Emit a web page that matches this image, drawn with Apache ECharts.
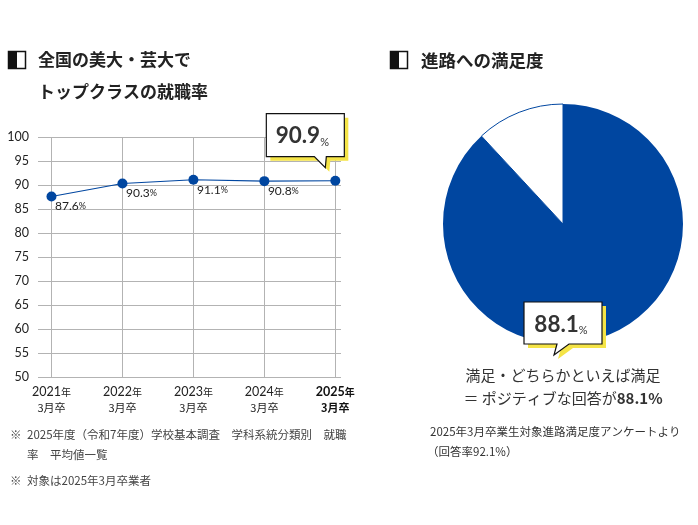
<!DOCTYPE html>
<html>
<head>
<meta charset="utf-8">
<script src="https://cdn.jsdelivr.net/npm/echarts@6.0.0/dist/echarts.min.js"></script>
<style>
  html, body { margin: 0; padding: 0; background: #fff; }
  #chart { width: 698px; height: 525px; }
</style>
</head>
<body>
<div id="chart"></div>
<script>
  'use strict';
  // data
  var years = ['2021', '2022', '2023', '2024', '2025'];
  var rates = [87.6, 90.3, 91.1, 90.8, 90.9];
  var yTicks = [50, 55, 60, 65, 70, 75, 80, 85, 90, 95, 100];
  var satisfied = 88.1;
  var other = 11.9;

  var BLUE = '#0046a0';
  var JP = '"Noto Sans CJK JP", "Noto Sans", sans-serif';
  var NUM = 'Lato, "Noto Sans", sans-serif';
  var last = years.length - 1;

  var lineData = rates.map(function (v, i) {
    if (i === last) return { value: [i, v], label: { show: false } };
    return [i, v];
  });

  var option = {
    animation: false,
    grid: {
      left: 38,
      right: 357,
      top: 137,
      bottom: 148,
      outerBoundsMode: 'none'
    },
    xAxis: {
      type: 'value',
      min: -0.19,
      max: 4.08,
      axisLine: { show: false },
      axisTick: { show: false },
      splitLine: { show: false },
      axisLabel: {
        customValues: years.map(function (y, i) { return i; }),
        margin: 7,
        lineHeight: 16,
        formatter: function (val) {
          var i = Math.round(val);
          if (i === last) return '{yb|' + years[i] + '}{nb|年}\n{mb|3月卒}';
          return '{y|' + years[i] + '}{n|年}\n{m|3月卒}';
        },
        rich: {
          y: { fontFamily: NUM, fontSize: 12.5, color: '#222', lineHeight: 16 },
          n: { fontFamily: JP, fontSize: 10, color: '#222', lineHeight: 16 },
          m: { fontFamily: JP, fontSize: 11, color: '#222', lineHeight: 16 },
          yb: { fontFamily: NUM, fontSize: 12.5, fontWeight: 'bold', color: '#111', lineHeight: 16 },
          nb: { fontFamily: JP, fontSize: 10, fontWeight: 'bold', color: '#111', lineHeight: 16 },
          mb: { fontFamily: JP, fontSize: 11, fontWeight: 'bold', color: '#111', lineHeight: 16 }
        }
      }
    },
    yAxis: {
      type: 'value',
      min: yTicks[0],
      max: yTicks[yTicks.length - 1],
      interval: 5,
      axisLine: { show: false },
      axisTick: { show: false },
      axisLabel: { fontFamily: NUM, fontSize: 12.5, color: '#222', margin: 9 },
      splitLine: { lineStyle: { color: '#b3b3b3', width: 1 } }
    },
    series: [
      {
        type: 'line',
        data: lineData,
        symbol: 'circle',
        symbolSize: 10,
        itemStyle: { color: BLUE },
        lineStyle: { color: BLUE, width: 1.1 },
        z: 5,
        label: {
          show: true,
          position: 'bottom',
          distance: 0,
          offset: [19, -1],
          formatter: function (p) {
            return '{v|' + p.value[1].toFixed(1) + '}{p|%}';
          },
          rich: {
            v: { fontFamily: NUM, fontSize: 12, color: '#222' },
            p: { fontFamily: NUM, fontSize: 9, color: '#222' }
          }
        },
        markLine: {
          silent: true,
          symbol: ['none', 'none'],
          label: { show: false },
          lineStyle: { color: '#b3b3b3', type: 'solid', width: 1 },
          data: years.map(function (y, i) { return { xAxis: i }; }),
          z: 1
        }
      },
      {
        type: 'pie',
        center: [563, 224],
        radius: 120,
        startAngle: 90,
        clockwise: true,
        silent: true,
        label: { show: false },
        labelLine: { show: false },
        data: [
          { value: satisfied, itemStyle: { color: BLUE } },
          { value: other, itemStyle: { color: '#ffffff', borderColor: BLUE, borderWidth: 1 } }
        ]
      }
    ]
  };

  var chart = echarts.init(document.getElementById('chart'));
  chart.setOption(option);

  // callout bubble with a yellow offset shadow
  function bubble(box, tail, shadow) {
    var pts = [
      [box.x, box.y], [box.x + box.w, box.y], [box.x + box.w, box.y + box.h]
    ].concat(tail).concat([[box.x, box.y + box.h]]);
    var sh = pts.map(function (p) { return [p[0] + shadow, p[1] + shadow]; });
    return [
      { type: 'polygon', shape: { points: sh }, style: { fill: '#f5e447' }, z: 20 },
      { type: 'polygon', shape: { points: pts }, style: { fill: '#fff', stroke: '#111', lineWidth: 1.2 }, z: 21 }
    ];
  }

  function icon(x, y) {
    return [
      { type: 'rect', shape: { x: x, y: y, width: 17, height: 17 }, style: { fill: '#fff', stroke: '#111', lineWidth: 1.5 } },
      { type: 'rect', shape: { x: x, y: y, width: 8.5, height: 17 }, style: { fill: '#111' } }
    ];
  }

  function txt(x, y, text, opt) {
    opt = opt || {};
    return {
      type: 'text', x: x, y: y, z: 30,
      style: {
        text: text,
        fontFamily: opt.family || JP,
        fontSize: opt.size || 12,
        fontWeight: opt.weight || 'normal',
        fill: opt.color || '#333',
        align: opt.align || 'left',
        verticalAlign: 'middle',
        rich: opt.rich
      }
    };
  }

  var pt = chart.convertToPixel({ seriesIndex: 0 }, [last, rates[last]]);
  var tx = pt[0] - 10, ty = pt[1] - 13;
  var b1 = { x: tx - 59, y: ty - 54, w: 78, h: 43 };
  var tail1 = [[tx + 1, b1.y + b1.h], [tx, ty], [tx - 11, b1.y + b1.h]];

  var px = 554, py = 355;
  var b2 = { x: px - 30, y: py - 53, w: 78, h: 42 };
  var tail2 = [[px + 15, b2.y + b2.h], [px, py], [px + 3, b2.y + b2.h]];

  var bigRich = {
    a: { fontFamily: NUM, fontSize: 22.5, fontWeight: 'bold', color: '#333', verticalAlign: 'bottom', lineHeight: 26 },
    b: { fontFamily: NUM, fontSize: 11, color: '#333', verticalAlign: 'bottom', lineHeight: 22 }
  };

  var elements = []
    .concat(icon(8.5, 51.5))
    .concat(icon(390.5, 51.5))
    .concat([
      txt(38, 60, '全国の美大・芸大で', { size: 17, weight: 'bold', color: '#222' }),
      txt(38, 92, 'トップクラスの就職率', { size: 17, weight: 'bold', color: '#222' }),
      txt(421, 60, '進路への満足度', { size: 17.5, weight: 'bold', color: '#222' })
    ])
    .concat(bubble(b1, tail1, 4))
    .concat(bubble(b2, tail2, 4))
    .concat([
      txt(b1.x + b1.w / 2 - 3, b1.y + 21, '{a|' + rates[last].toFixed(1) + '}{b|%}', { align: 'center', rich: bigRich }),
      txt(b2.x + b2.w / 2 - 2, b2.y + 21, '{a|' + satisfied.toFixed(1) + '}{b|%}', { align: 'center', rich: bigRich }),
      txt(563, 375, '満足・どちらかといえば満足', { size: 15, color: '#333', align: 'center' }),
      txt(563, 398, '{n|＝ ポジティブな回答が}{b|' + satisfied.toFixed(1) + '%}', {
        align: 'center',
        rich: {
          n: { fontFamily: JP, fontSize: 15, color: '#333' },
          b: { fontFamily: JP, fontSize: 15, fontWeight: 'bold', color: '#333' }
        }
      }),
      txt(430, 432, '2025年3月卒業生対象進路満足度アンケートより', { size: 11.5, color: '#333' }),
      txt(427, 452, '（回答率92.1%）', { size: 11.5, color: '#333' }),
      txt(10, 435, '※', { size: 11.5, color: '#444' }),
      txt(27, 435, '2025年度（令和7年度）学校基本調査　学科系統分類別　就職', { size: 11.5, color: '#444' }),
      txt(27, 455, '率　平均値一覧', { size: 11.5, color: '#444' }),
      txt(10, 481, '※', { size: 11.5, color: '#444' }),
      txt(27, 481, '対象は2025年3月卒業者', { size: 11.5, color: '#444' })
    ]);

  chart.setOption({ graphic: { elements: elements } });
</script>
</body>
</html>
